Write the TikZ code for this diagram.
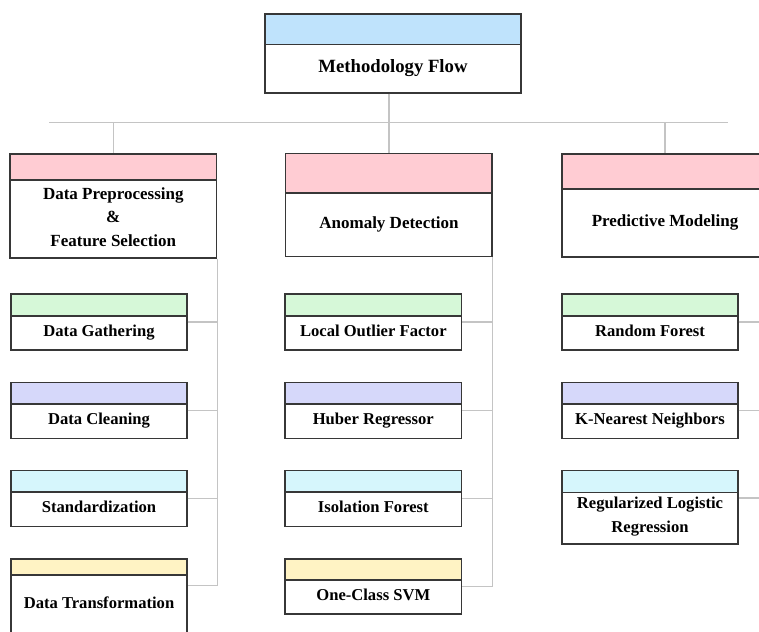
\documentclass[tikz,border=0pt]{standalone}
\usepackage{fontspec}
\setmainfont{Liberation Serif}
\definecolor{bordc}{RGB}{55,55,55}
\definecolor{connc}{RGB}{196,196,196}
\definecolor{hblue}{RGB}{191,227,252}
\definecolor{hpink}{RGB}{255,204,211}
\definecolor{hgreen}{RGB}{214,248,216}
\definecolor{hlav}{RGB}{214,216,250}
\definecolor{hcyan}{RGB}{214,246,252}
\definecolor{hyellow}{RGB}{255,243,196}
\tikzset{
  box/.style n args={4}{draw=bordc, line width=1.1pt, fill=white, inner sep=0pt,
    minimum width=#1pt, minimum height=#2pt,
    path picture={\fill[#3] (path picture bounding box.north west) rectangle ([yshift=-#4pt]path picture bounding box.north east);
      \draw[bordc, line width=1.1pt] ([yshift=-#4pt]path picture bounding box.north west) -- ([yshift=-#4pt]path picture bounding box.north east);}},
  conn/.style={draw=connc, line width=1.4pt},
  ttltext/.style={font=\fontsize{18.7}{22}\selectfont\bfseries, anchor=base, inner sep=0pt},
  cattext/.style={font=\fontsize{17}{20}\selectfont\bfseries, anchor=base, inner sep=0pt},
  subtext/.style={font=\fontsize{16.6}{20}\selectfont\bfseries, anchor=base, inner sep=0pt},
}
\begin{document}
\begin{tikzpicture}[x=1pt,y=-1pt]
\useasboundingbox (0,0) rectangle (759,631);
\clip (0,0) rectangle (759,631);
\fill[white] (0,0) rectangle (759,631);

% connector end points
\coordinate (hl) at (49,122.5);
\coordinate (hr) at (728,122.5);

% boxes
\node[box={256}{79}{hblue}{30.5}] (top) at (393,53.5) {};
\node[box={206.7}{104}{hpink}{26}] (cat1) at (113.3,206) {};
\node[box={206.3}{102.5}{hpink}{39}] (cat2) at (388.8,205.2) {};
\node[box={206}{103}{hpink}{35}] (cat3) at (665,205.5) {};

\node[box={176}{56}{hgreen}{22}] (dg) at (99,322) {};
\node[box={176}{56}{hlav}{21.5}] (dcl) at (99,410.5) {};
\node[box={176}{56}{hcyan}{21.5}] (dst) at (99,498.5) {};
\node[box={176}{90}{hyellow}{16}] (dtr) at (99,604) {};

\node[box={176.7}{56}{hgreen}{22}] (lof) at (373.3,322) {};
\node[box={176.7}{56}{hlav}{21.5}] (hub) at (373.3,410.5) {};
\node[box={176.7}{56}{hcyan}{21.5}] (iso) at (373.3,498.5) {};
\node[box={176.7}{55}{hyellow}{21}] (svm) at (373.3,586.5) {};

\node[box={176}{56}{hgreen}{22}] (rf) at (650,322) {};
\node[box={176}{56}{hlav}{21.5}] (knn) at (650,410.5) {};
\node[box={176}{73.5}{hcyan}{22}] (rlr) at (650,507.25) {};

% connectors
\draw[conn] (hl) -- (hr);
\draw[conn] (top.south -| cat2.north) -- (cat2.north);
\draw[conn] (cat1.north |- hl) -- (cat1.north);
\draw[conn] (cat3.north |- hl) -- (cat3.north);

\draw[conn] (cat1.south east) |- ([yshift=-27pt]dtr.north east);
\draw[conn] (dg.east) -- (dg.east -| cat1.south east);
\draw[conn] (dcl.east) -- (dcl.east -| cat1.south east);
\draw[conn] (dst.east) -- (dst.east -| cat1.south east);

\draw[conn] (cat2.south east) |- (svm.east);
\draw[conn] (lof.east) -- (lof.east -| cat2.south east);
\draw[conn] (hub.east) -- (hub.east -| cat2.south east);
\draw[conn] (iso.east) -- (iso.east -| cat2.south east);

\draw[conn] (cat3.south east) |- ([yshift=-28pt]rlr.north east);
\draw[conn] (rf.east) -- (rf.east -| cat3.south east);
\draw[conn] (knn.east) -- (knn.east -| cat3.south east);

% texts
\node[ttltext] (ttl) at (393,73) {Methodology Flow};
\node[cattext] (dp1) at (113.3,199) {Data Preprocessing};
\node[cattext] (dp2) at (113.3,222.7) {\&};
\node[cattext] (dp3) at (113.3,246.5) {Feature Selection};
\node[cattext] (ad) at (389,228.3) {Anomaly Detection};
\node[cattext] (pm) at (665,226.7) {Predictive Modeling};

\node[subtext] (tdg) at (99,336.5) {Data Gathering};
\node[subtext] (tdc) at (99,424.5) {Data Cleaning};
\node[subtext] (tds) at (99,512.5) {Standardization};
\node[subtext] (tdt) at (99,608.5) {Data Transformation};

\node[subtext] (tlof) at (373.3,336.5) {Local Outlier Factor};
\node[subtext] (thub) at (373.3,424.5) {Huber Regressor};
\node[subtext] (tiso) at (373.3,512.5) {Isolation Forest};
\node[subtext] (tsvm) at (373.3,600.5) {One-Class SVM};

\node[subtext] (trf) at (650,336.5) {Random Forest};
\node[subtext] (tknn) at (650,424.5) {K-Nearest Neighbors};
\node[subtext] (trl1) at (650,508.7) {Regularized Logistic};
\node[subtext] (trl2) at (650,532.3) {Regression};
\end{tikzpicture}
\end{document}
